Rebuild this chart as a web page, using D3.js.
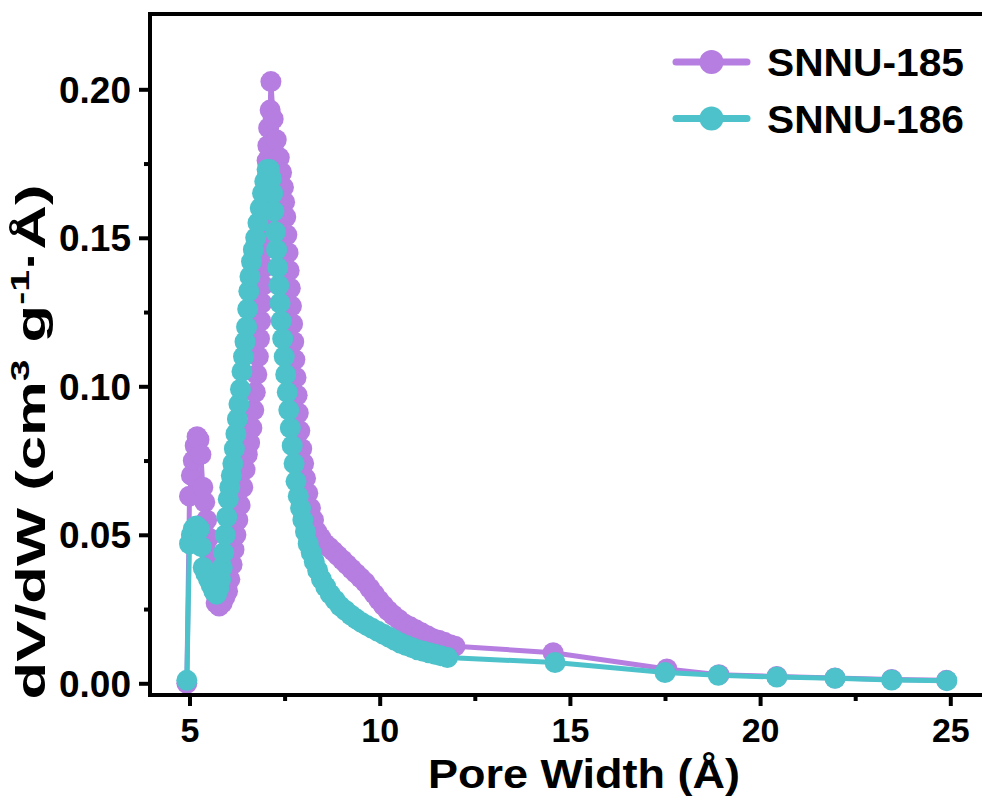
<!DOCTYPE html>
<html lang="en">
<head>
    <meta charset="UTF-8">
    <title>Pore size distribution</title>
    <script src="https://cdn.jsdelivr.net/npm/d3@7"></script>
    <style>
        body { margin: 0; background: #fff; }
        text { font-family: "Liberation Sans", Arial, sans-serif; font-weight: bold; fill: #000; }
    </style>
</head>
<body>
<script type="text/javascript">
    // SNNU-185
    var poreWidth185 = [4.93, 5.00, 5.05, 5.10, 5.15, 5.20, 5.25, 5.30, 5.35, 5.40, 5.45, 5.50, 5.55, 5.60, 5.65,
        5.70, 5.78, 5.86, 5.93, 6.00, 6.06, 6.12, 6.17, 6.22, 6.27, 6.33, 6.40, 6.46, 6.52, 6.58, 6.64,
        6.69, 6.73, 6.77, 6.81, 6.84, 6.87, 6.90, 6.93, 6.96, 6.98, 7.00, 7.01, 7.02, 7.03, 7.04, 7.06,
        7.08, 7.12, 7.14, 7.20, 7.28, 7.36, 7.42, 7.47, 7.50, 7.53, 7.56, 7.59, 7.62, 7.65, 7.68, 7.71,
        7.74, 7.77, 7.80, 7.83, 7.86, 7.90, 7.95, 8.00, 8.05, 8.11, 8.18, 8.26, 8.35, 8.45, 8.56, 8.67,
        8.78, 8.90, 9.02, 9.14, 9.26, 9.38, 9.50, 9.62, 9.74, 9.86, 9.98, 10.10, 10.22, 10.35, 10.50,
        10.65, 10.80, 10.95, 11.10, 11.25, 11.40, 11.55, 11.70, 11.85, 11.98,
        14.56, 17.55, 18.92, 20.44, 21.97, 23.46, 24.90];
    var dvdw185 = [0.000, 0.063, 0.070, 0.075, 0.080, 0.083, 0.082, 0.077, 0.066, 0.061, 0.055, 0.049, 0.043, 0.037, 0.031,
        0.027, 0.026, 0.027, 0.029, 0.031, 0.035, 0.040, 0.045, 0.050, 0.055, 0.060, 0.066, 0.072, 0.077, 0.081, 0.086,
        0.092, 0.098, 0.104, 0.110, 0.116, 0.122, 0.128, 0.134, 0.140, 0.146, 0.152, 0.158, 0.164, 0.170, 0.176, 0.181,
        0.187, 0.193, 0.2026, 0.190, 0.183, 0.177, 0.172, 0.167, 0.162, 0.157, 0.151, 0.145, 0.139, 0.133, 0.127, 0.121,
        0.115, 0.109, 0.103, 0.097, 0.091, 0.085, 0.079, 0.074, 0.069, 0.064, 0.059, 0.055, 0.051, 0.049, 0.047, 0.0458,
        0.0445, 0.043, 0.0415, 0.040, 0.0385, 0.037, 0.0355, 0.034, 0.032, 0.030, 0.028, 0.0262, 0.0245, 0.023, 0.0215,
        0.020, 0.019, 0.018, 0.017, 0.016, 0.015, 0.0145, 0.0138, 0.013, 0.0125,
        0.0103, 0.0048, 0.0029, 0.0023, 0.0018, 0.0013, 0.0010];

    // SNNU-186
    var poreWidth186 = [4.93, 5.00, 5.05, 5.10, 5.18, 5.26, 5.31, 5.36, 5.43, 5.50, 5.57, 5.64, 5.71, 5.77, 5.82,
        5.86, 5.90, 5.94, 5.98, 6.02, 6.06, 6.10, 6.14, 6.18, 6.22, 6.26, 6.30, 6.34, 6.38, 6.42, 6.46,
        6.50, 6.53, 6.56, 6.59, 6.63, 6.68, 6.74, 6.80, 6.86, 6.92, 6.98, 7.04, 7.10, 7.15, 7.19, 7.22,
        7.26, 7.29, 7.32, 7.35, 7.38, 7.41, 7.45, 7.49, 7.53, 7.57, 7.61, 7.65, 7.70, 7.75, 7.80, 7.86,
        7.92, 7.98, 8.05, 8.12, 8.20, 8.28, 8.37, 8.47, 8.58, 8.70, 8.83, 8.96, 9.10, 9.24, 9.38, 9.52,
        9.66, 9.80, 9.95, 10.10, 10.25, 10.40, 10.55, 10.70, 10.85, 11.00, 11.15, 11.30, 11.45, 11.60, 11.78,
        14.61, 17.50, 18.90, 20.44, 21.97, 23.46, 24.91];
    var dvdw186 = [0.001, 0.047, 0.050, 0.052, 0.053, 0.052, 0.046, 0.039, 0.037, 0.035, 0.033, 0.031, 0.030, 0.032, 0.035,
        0.039, 0.044, 0.050, 0.056, 0.062, 0.066, 0.070, 0.074, 0.079, 0.084, 0.089, 0.094, 0.099, 0.105, 0.110, 0.115,
        0.120, 0.126, 0.132, 0.137, 0.142, 0.146, 0.150, 0.155, 0.160, 0.165, 0.169, 0.173, 0.173, 0.170, 0.165, 0.159,
        0.152, 0.146, 0.140, 0.134, 0.128, 0.122, 0.116, 0.110, 0.104, 0.098, 0.092, 0.086, 0.080, 0.074, 0.068, 0.063,
        0.059, 0.055, 0.051, 0.047, 0.044, 0.041, 0.038, 0.035, 0.0325, 0.030, 0.028, 0.026, 0.0245, 0.023, 0.0217, 0.0205,
        0.0195, 0.0185, 0.0175, 0.0165, 0.0155, 0.0145, 0.0135, 0.0127, 0.012, 0.0113, 0.0108, 0.0103, 0.0098, 0.0093, 0.0087,
        0.0070, 0.0036, 0.0027, 0.0021, 0.0017, 0.0011, 0.0009];

    var seriesNames = ['SNNU-185', 'SNNU-186'];
    var colors = ['#b57ee0', '#4dc2ca'];
    var xTicks = [5, 10, 15, 20, 25];
    var xMinorTicks = [7.5, 12.5, 17.5, 22.5];
    var yTicks = [0, 0.05, 0.10, 0.15, 0.20];
    var yMinorTicks = [0.025, 0.075, 0.125, 0.175];

    var width = 982;
    var height = 800;
    var frameLeft = 150, frameRight = 982, frameTop = 14, frameBottom = 695;

    var svg = d3.select('body').append('svg')
            .attr('width', width)
            .attr('height', height);

    var x = d3.scaleLinear().domain([5, 25]).range([189.5, 950.3]);
    var y = d3.scaleLinear().domain([0, 0.2]).range([683.3, 89.3]);

    var series = [
        {name: seriesNames[0], color: colors[0], pts: poreWidth185.map(function (d, i) { return [d, dvdw185[i]]; })},
        {name: seriesNames[1], color: colors[1], pts: poreWidth186.map(function (d, i) { return [d, dvdw186[i]]; })}
    ];

    var line = d3.line()
            .x(function (d) { return x(d[0]); })
            .y(function (d) { return y(d[1]); });

    var g = svg.selectAll('g.series')
            .data(series)
            .enter()
            .append('g')
            .attr('class', 'series');
    g.append('path')
            .attr('d', function (d) { return line(d.pts); })
            .attr('fill', 'none')
            .attr('stroke', function (d) { return d.color; })
            .attr('stroke-width', 5)
            .attr('stroke-linejoin', 'round');
    g.selectAll('circle')
            .data(function (d) { return d.pts.map(function (p) { return {p: p, c: d.color}; }); })
            .enter()
            .append('circle')
            .attr('cx', function (d) { return x(d.p[0]); })
            .attr('cy', function (d) { return y(d.p[1]); })
            .attr('r', 10.5)
            .attr('fill', function (d) { return d.c; });

    // axes
    var xAxis = d3.axisBottom(x).tickValues(xTicks).tickSize(11).tickPadding(12).tickFormat(d3.format('d'));
    var xMinor = d3.axisBottom(x).tickValues(xMinorTicks).tickSize(6).tickFormat('');
    var yAxis = d3.axisLeft(y).tickValues(yTicks).tickSize(11).tickPadding(8).tickFormat(d3.format('.2f'));
    var yMinor = d3.axisLeft(y).tickValues(yMinorTicks).tickSize(6).tickFormat('');

    [xAxis, xMinor].forEach(function (a) {
        var ax = svg.append('g').attr('transform', 'translate(0,' + frameBottom + ')').call(a);
        ax.select('.domain').remove();
        ax.selectAll('line').attr('stroke', '#000').attr('stroke-width', 4);
        ax.selectAll('text').attr('font-size', '34px').style('font-family', '"Liberation Sans", Arial, sans-serif');
    });
    [yAxis, yMinor].forEach(function (a) {
        var ax = svg.append('g').attr('transform', 'translate(' + frameLeft + ',0)').call(a);
        ax.select('.domain').remove();
        ax.selectAll('line').attr('stroke', '#000').attr('stroke-width', 4);
        ax.selectAll('text').attr('font-size', '37px').attr('dy', '0.35em').style('font-family', '"Liberation Sans", Arial, sans-serif');
    });

    // frame
    svg.append('path')
            .attr('d', 'M' + frameRight + ',' + frameTop + 'H' + frameLeft + 'V' + frameBottom + 'H' + frameRight)
            .attr('fill', 'none')
            .attr('stroke', '#000')
            .attr('stroke-width', 4);

    // titles
    svg.append('text')
            .attr('x', 584)
            .attr('y', 788)
            .attr('text-anchor', 'middle')
            .attr('font-size', '40px')
            .attr('textLength', 312)
            .attr('lengthAdjust', 'spacingAndGlyphs')
            .text('Pore Width (Å)');

    var yt = svg.append('text')
            .attr('transform', 'translate(45,442) rotate(-90)')
            .attr('text-anchor', 'middle')
            .attr('font-size', '41px')
            .attr('textLength', 515)
            .attr('lengthAdjust', 'spacingAndGlyphs');
    yt.append('tspan').text('dV/dW (cm');
    yt.append('tspan').attr('font-size', '26px').attr('dy', '-16').text('3');
    yt.append('tspan').attr('dy', '16').text(' g');
    yt.append('tspan').attr('font-size', '26px').attr('dy', '-16').text('-1');
    yt.append('tspan').attr('dy', '16').text('·Å)');

    // legend
    var leg = svg.selectAll('g.legend')
            .data(series)
            .enter()
            .append('g')
            .attr('class', 'legend')
            .attr('transform', function (d, i) { return 'translate(0,' + (62 + i * 56.5) + ')'; });
    leg.append('line')
            .attr('x1', 676).attr('x2', 747)
            .attr('stroke', function (d) { return d.color; })
            .attr('stroke-width', 7)
            .attr('stroke-linecap', 'round');
    leg.append('circle')
            .attr('cx', 711.5)
            .attr('r', 12)
            .attr('fill', function (d) { return d.color; });
    leg.append('text')
            .attr('x', 767)
            .attr('y', 14)
            .attr('font-size', '39px')
            .attr('textLength', 197)
            .attr('lengthAdjust', 'spacingAndGlyphs')
            .text(function (d) { return d.name; });
</script>
</body>
</html>
